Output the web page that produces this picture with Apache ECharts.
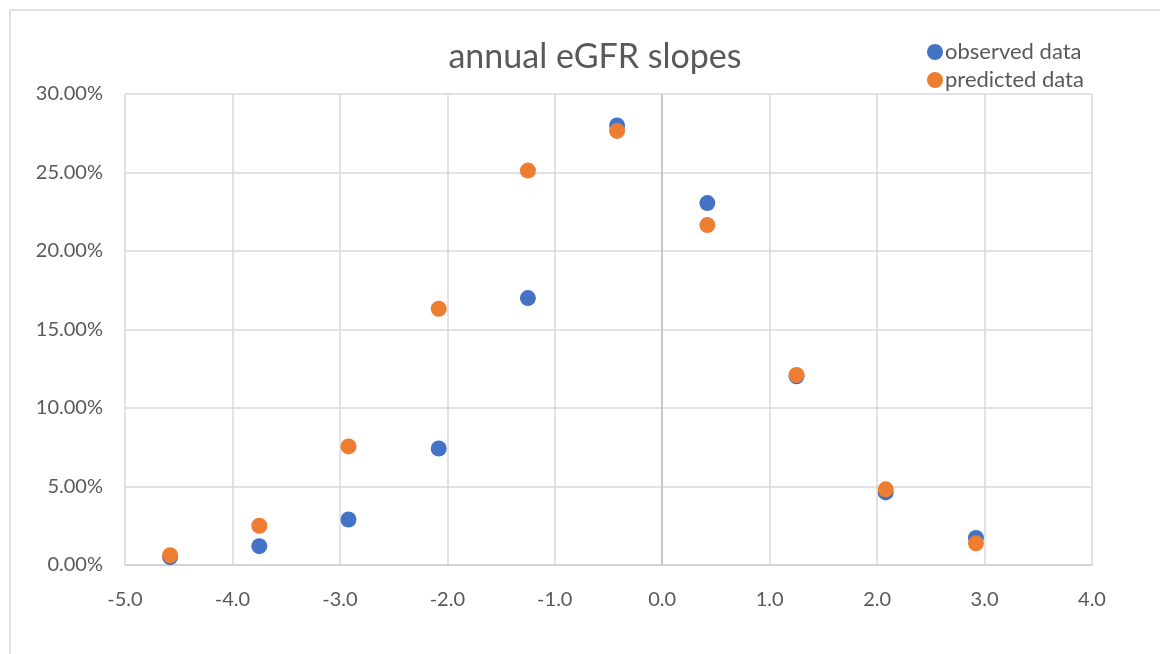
<!DOCTYPE html>
<html>
<head>
<meta charset="utf-8">
<script src="https://cdn.jsdelivr.net/npm/echarts@6/dist/echarts.min.js"></script>
<style>html,body{margin:0;padding:0;background:#fff}#c{width:1160px;height:654px}</style>
</head>
<body>
<div id="c"></div>
<script>
const xValues = [-4.58, -3.75, -2.92, -2.08, -1.25, -0.42, 0.42, 1.25, 2.08, 2.92];
const observed = [0.50, 1.20, 2.90, 7.42, 17.00, 28.00, 23.05, 12.02, 4.62, 1.72];
const predicted = [0.62, 2.50, 7.55, 16.32, 25.12, 27.65, 21.65, 12.10, 4.82, 1.38];
const seriesNames = ['observed data', 'predicted data'];
const colors = ['#4472C4', '#ED7D31'];
const FONT = 'Lato, "Open Sans", sans-serif';

const chart = echarts.init(document.getElementById('c'));
chart.setOption({
  animation: false,
  title: {
    text: 'annual eGFR slopes', left: 590, top: 35, textAlign: 'center',
    textStyle: { fontFamily: FONT, fontSize: 34, fontWeight: 'normal', color: '#595959' }
  },
  legend: {
    orient: 'vertical', left: 922, top: 36, itemGap: 6,
    icon: 'circle', itemWidth: 16, itemHeight: 16,
    textStyle: { fontFamily: FONT, fontSize: 22, color: '#595959', padding: [0, 0, 0, -3] },
    data: seriesNames
  },
  graphic: [{
    type: 'rect', shape: { x: 10, y: 10, width: 1300, height: 800 },
    style: { fill: 'none', stroke: '#d9d9d9', lineWidth: 1.5 }, silent: true, z: -10
  }],
  grid: { left: 125, right: 68, top: 94, bottom: 89 },
  xAxis: {
    type: 'value', min: -5, max: 4, interval: 1,
    axisLine: { show: true, onZero: false, lineStyle: { color: '#d0d0d0', width: 1.5 } },
    axisTick: { show: false },
    splitLine: { show: true, lineStyle: { color: '#d9d9d9', width: 1.5 } },
    axisLabel: { margin: 25, fontFamily: FONT, fontSize: 20, color: '#595959',
      formatter: v => v.toFixed(1) }
  },
  yAxis: {
    type: 'value', min: 0, max: 30, interval: 5,
    axisLine: { show: false },
    axisTick: { show: false },
    splitLine: { show: true, lineStyle: { color: '#d9d9d9', width: 1.5 } },
    axisLabel: { margin: 22, fontFamily: FONT, fontSize: 20, color: '#595959',
      formatter: v => v.toFixed(2) + '%' }
  },
  series: [
    {
      name: seriesNames[0], type: 'scatter', symbolSize: 16,
      itemStyle: { color: colors[0], opacity: 1 },
      data: xValues.map((x, i) => [x, observed[i]]),
      markLine: {
        silent: true, symbol: 'none', label: { show: false },
        lineStyle: { color: '#bfbfbf', type: 'solid', width: 1.5 },
        data: [{ xAxis: 0 }], z: 1
      }
    },
    {
      name: seriesNames[1], type: 'scatter', symbolSize: 16,
      itemStyle: { color: colors[1], opacity: 1 },
      data: xValues.map((x, i) => [x, predicted[i]])
    }
  ]
});
</script>
</body>
</html>
